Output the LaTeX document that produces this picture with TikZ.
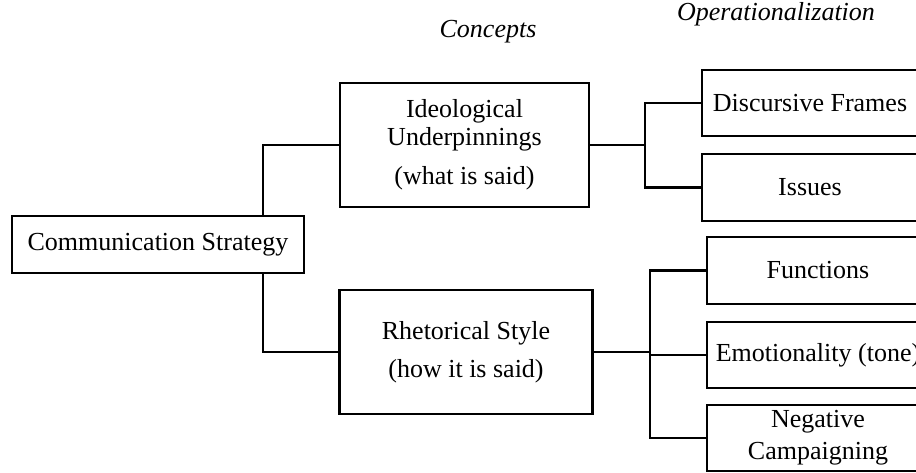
\documentclass[tikz,border=0pt]{standalone}
\usepackage{fontspec}
\setmainfont{Liberation Serif}
\begin{document}
\begin{tikzpicture}[x=1pt,y=-1pt,
  box/.style={draw=black,line width=2.9pt,fill=white,align=center,inner sep=0pt,
    font=\fontsize{26}{28}\selectfont},
  conn/.style={draw=black,line width=2.9pt},
  head/.style={anchor=base,font=\fontsize{26}{28}\selectfont\itshape}]
\useasboundingbox (0,0) rectangle (916,472);
\clip (0,0) rectangle (916,472);
% headers
\node[head] (hc) at (488,37) {Concepts};
\node[head] (ho) at (776,20) {Operationalization};
% boxes
\node[box,minimum width=292pt,minimum height=57pt] (cs) at (158,244.5) {Communication Strategy};
\node[box,minimum width=249pt,minimum height=124pt] (iu) at (464.5,145) {Ideological\\Underpinnings\\[11pt](what is said)};
\node[box,minimum width=253pt,minimum height=124pt] (rs) at (466,352) {Rhetorical Style\\[10pt](how it is said)};
\node[box,minimum width=216pt,minimum height=66pt] (df) at (810,103) {Discursive Frames};
\node[box,minimum width=216pt,minimum height=67pt] (is) at (810,187.5) {Issues};
\node[box,minimum width=222pt,minimum height=67pt] (fu) at (818,270.5) {Functions};
\node[box,minimum width=222pt,minimum height=66pt] (em) at (818,355) {Emotionality (tone)};
\node[box,minimum width=222pt,minimum height=66pt] (ng) at (818,438) {Negative\\[4pt]Campaigning};
% junctions
\coordinate (j0) at (263,0);
\coordinate (b1) at (645,145);
\coordinate (b2) at (650,352);
% connectors
\draw[conn] (j0 |- cs.north) |- (iu.west);
\draw[conn] (j0 |- cs.south) |- (rs.west);
\draw[conn] (iu.east) -- (b1);
\draw[conn] (df.west) -| (b1) |- (is.west);
\draw[conn] (rs.east) -- (b2);
\draw[conn] (fu.west) -| (b2) |- (ng.west);
\draw[conn] (b2 |- em.west) -- (em.west);
\end{tikzpicture}
\end{document}
